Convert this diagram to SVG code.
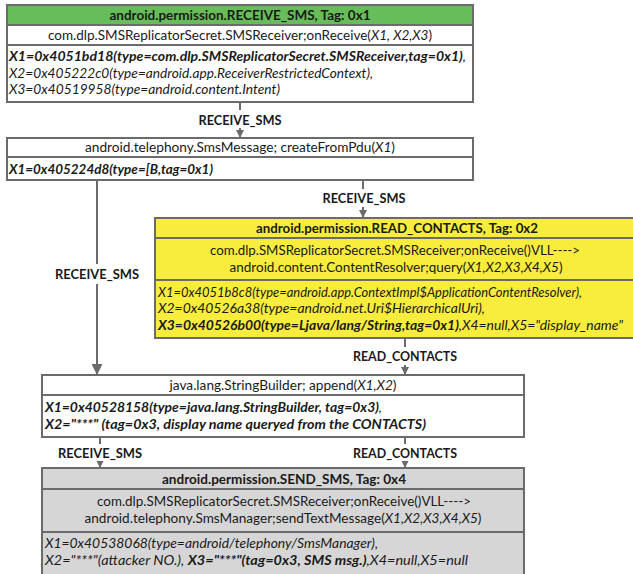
<svg xmlns="http://www.w3.org/2000/svg" width="633" height="574" viewBox="0 0 633 574">
<style>
text{font-family:Lato,"Liberation Sans",sans-serif;font-size:13.5px;fill:#1a1a1a}
.b{font-weight:bold}
.i{font-style:italic}
.bi{font-weight:bold;font-style:italic}
.c{text-anchor:middle}
.box{stroke:#6b6b6b;stroke-width:2}
.div{stroke:#6b6b6b;stroke-width:2}
.con{stroke:#6b6b6b;stroke-width:2;fill:none}
.lbl{font-weight:bold;text-anchor:middle}
.lb{fill:#fff}
</style>
<defs>
<marker id="ah" viewBox="0 0 10 10" refX="10" refY="5" markerWidth="4" markerHeight="4" orient="auto" markerUnits="strokeWidth"><path d="M0,0L10,5L0,10z" fill="#6b6b6b"/></marker>
<marker id="ahL" viewBox="0 0 10 10" refX="10" refY="5" markerWidth="6" markerHeight="5.5" orient="auto" markerUnits="strokeWidth"><path d="M0,0L10,5L0,10z" fill="#6b6b6b"/></marker>
</defs>
<rect width="633" height="574" fill="#fff"/>

<g id="connectors">
<path class="con" d="M240,102V138" marker-end="url(#ah)"/>
<path class="con" d="M97,180V375" marker-end="url(#ahL)"/>
<path class="con" d="M363,180V218" marker-end="url(#ah)"/>
<path class="con" d="M405,338V375" marker-end="url(#ah)"/>
<path class="con" d="M100,437V468" marker-end="url(#ah)"/>
<path class="con" d="M405,437V468" marker-end="url(#ah)"/>
<rect class="lb" x="196" y="110" width="88" height="18"/>
<text class="lbl" x="240" y="125" textLength="83" lengthAdjust="spacingAndGlyphs">RECEIVE_SMS</text>
<rect class="lb" x="52" y="264" width="90" height="20"/>
<text class="lbl" x="97" y="279" textLength="84" lengthAdjust="spacingAndGlyphs">RECEIVE_SMS</text>
<rect class="lb" x="320" y="189" width="88" height="18"/>
<text class="lbl" x="364" y="203" textLength="83" lengthAdjust="spacingAndGlyphs">RECEIVE_SMS</text>
<rect class="lb" x="350" y="347" width="110" height="18"/>
<text class="lbl" x="405" y="361" textLength="104" lengthAdjust="spacingAndGlyphs">READ_CONTACTS</text>
<rect class="lb" x="55" y="444" width="90" height="17"/>
<text class="lbl" x="100" y="458" textLength="84" lengthAdjust="spacingAndGlyphs">RECEIVE_SMS</text>
<rect class="lb" x="350" y="444" width="110" height="17"/>
<text class="lbl" x="405" y="458" textLength="104" lengthAdjust="spacingAndGlyphs">READ_CONTACTS</text>
</g>

<g id="node-receive-sms">
<rect x="7" y="5" width="466" height="20" fill="#68bd5b"/>
<rect class="box" x="7" y="5" width="466" height="97" fill="none"/>
<line class="div" x1="7" y1="25" x2="473" y2="25"/>
<line class="div" x1="7" y1="45" x2="473" y2="45"/>
<text class="b c" x="240" y="20" textLength="261" lengthAdjust="spacingAndGlyphs">android.permission.RECEIVE_SMS, Tag: 0x1</text>
<text class="c" x="240" y="40" textLength="384" lengthAdjust="spacingAndGlyphs">com.dlp.SMSReplicatorSecret.SMSReceiver;onReceive(<tspan class="i">X1, X2,X3</tspan>)</text>
<text x="9" y="61" textLength="457" lengthAdjust="spacingAndGlyphs"><tspan class="bi">X1=0x4051bd18(type=com.dlp.SMSReplicatorSecret.SMSReceiver,tag=0x1)</tspan><tspan class="i">,</tspan></text>
<text class="i" x="9" y="78" textLength="364" lengthAdjust="spacingAndGlyphs">X2=0x405222c0(type=android.app.ReceiverRestrictedContext),</text>
<text class="i" x="9" y="94" textLength="271" lengthAdjust="spacingAndGlyphs">X3=0x40519958(type=android.content.Intent)</text>
</g>

<g id="node-createFromPdu">
<rect class="box" x="7" y="138" width="466" height="42" fill="#fff"/>
<line class="div" x1="7" y1="157" x2="473" y2="157"/>
<text class="c" x="240" y="152" textLength="310" lengthAdjust="spacingAndGlyphs">android.telephony.SmsMessage; createFromPdu(<tspan class="i">X1</tspan>)</text>
<text class="bi" x="9" y="174" textLength="204" lengthAdjust="spacingAndGlyphs">X1=0x405224d8(type=[B,tag=0x1)</text>
</g>

<g id="node-read-contacts">
<rect class="box" x="155" y="218" width="480" height="120" fill="#f8ec3c"/>
<line class="div" x1="155" y1="238" x2="635" y2="238"/>
<line class="div" x1="155" y1="280" x2="635" y2="280"/>
<text class="b c" x="397" y="233" textLength="282" lengthAdjust="spacingAndGlyphs">android.permission.READ_CONTACTS, Tag: 0x2</text>
<text class="c" x="395" y="255" textLength="370" lengthAdjust="spacingAndGlyphs">com.dlp.SMSReplicatorSecret.SMSReceiver;onReceive()VLL----&gt;</text>
<text class="c" x="396" y="272" textLength="333" lengthAdjust="spacingAndGlyphs">android.content.ContentResolver;query(<tspan class="i">X1,X2,X3,X4,X5</tspan>)</text>
<text class="i" x="158" y="297" textLength="424" lengthAdjust="spacingAndGlyphs">X1=0x4051b8c8(type=android.app.ContextImpl$ApplicationContentResolver),</text>
<text class="i" x="158" y="313" textLength="327" lengthAdjust="spacingAndGlyphs">X2=0x40526a38(type=android.net.Uri$HierarchicalUri),</text>
<text x="158" y="330" textLength="465" lengthAdjust="spacingAndGlyphs"><tspan class="bi">X3=0x40526b00(type=Ljava/lang/String,tag=0x1)</tspan><tspan class="i">,X4=null,X5="display_name"</tspan></text>
</g>

<g id="node-append">
<rect class="box" x="42" y="375" width="482" height="62" fill="#fff"/>
<line class="div" x1="42" y1="395" x2="524" y2="395"/>
<text class="c" x="283" y="390" textLength="227" lengthAdjust="spacingAndGlyphs">java.lang.StringBuilder; append(<tspan class="i">X1,X2</tspan>)</text>
<text x="45" y="412" textLength="337" lengthAdjust="spacingAndGlyphs"><tspan class="bi">X1=0x40528158(type=java.lang.StringBuilder, tag=0x3)</tspan><tspan class="i">,</tspan></text>
<text class="bi" x="45" y="429" textLength="381" lengthAdjust="spacingAndGlyphs">X2="***" (tag=0x3, display name queryed from the CONTACTS)</text>
</g>

<g id="node-send-sms">
<rect class="box" x="42" y="468" width="482" height="107" fill="#d6d6d6"/>
<line class="div" x1="42" y1="489" x2="524" y2="489"/>
<line class="div" x1="42" y1="532" x2="524" y2="532"/>
<text class="b c" x="284" y="484" textLength="244" lengthAdjust="spacingAndGlyphs">android.permission.SEND_SMS, Tag: 0x4</text>
<text class="c" x="284" y="506" textLength="374" lengthAdjust="spacingAndGlyphs">com.dlp.SMSReplicatorSecret.SMSReceiver;onReceive()VLL----&gt;</text>
<text class="c" x="283" y="523" textLength="397" lengthAdjust="spacingAndGlyphs">android.telephony.SmsManager;sendTextMessage(<tspan class="i">X1,X2,X3,X4,X5</tspan>)</text>
<text class="i" x="45" y="548" textLength="333" lengthAdjust="spacingAndGlyphs">X1=0x40538068(type=android/telephony/SmsManager),</text>
<text x="45" y="565" textLength="423" lengthAdjust="spacingAndGlyphs"><tspan class="i">X2="***"(attacker NO.), </tspan><tspan class="bi">X3="***"(tag=0x3, SMS msg.)</tspan><tspan class="i">,X4=null,X5=null</tspan></text>
</g>
</svg>
